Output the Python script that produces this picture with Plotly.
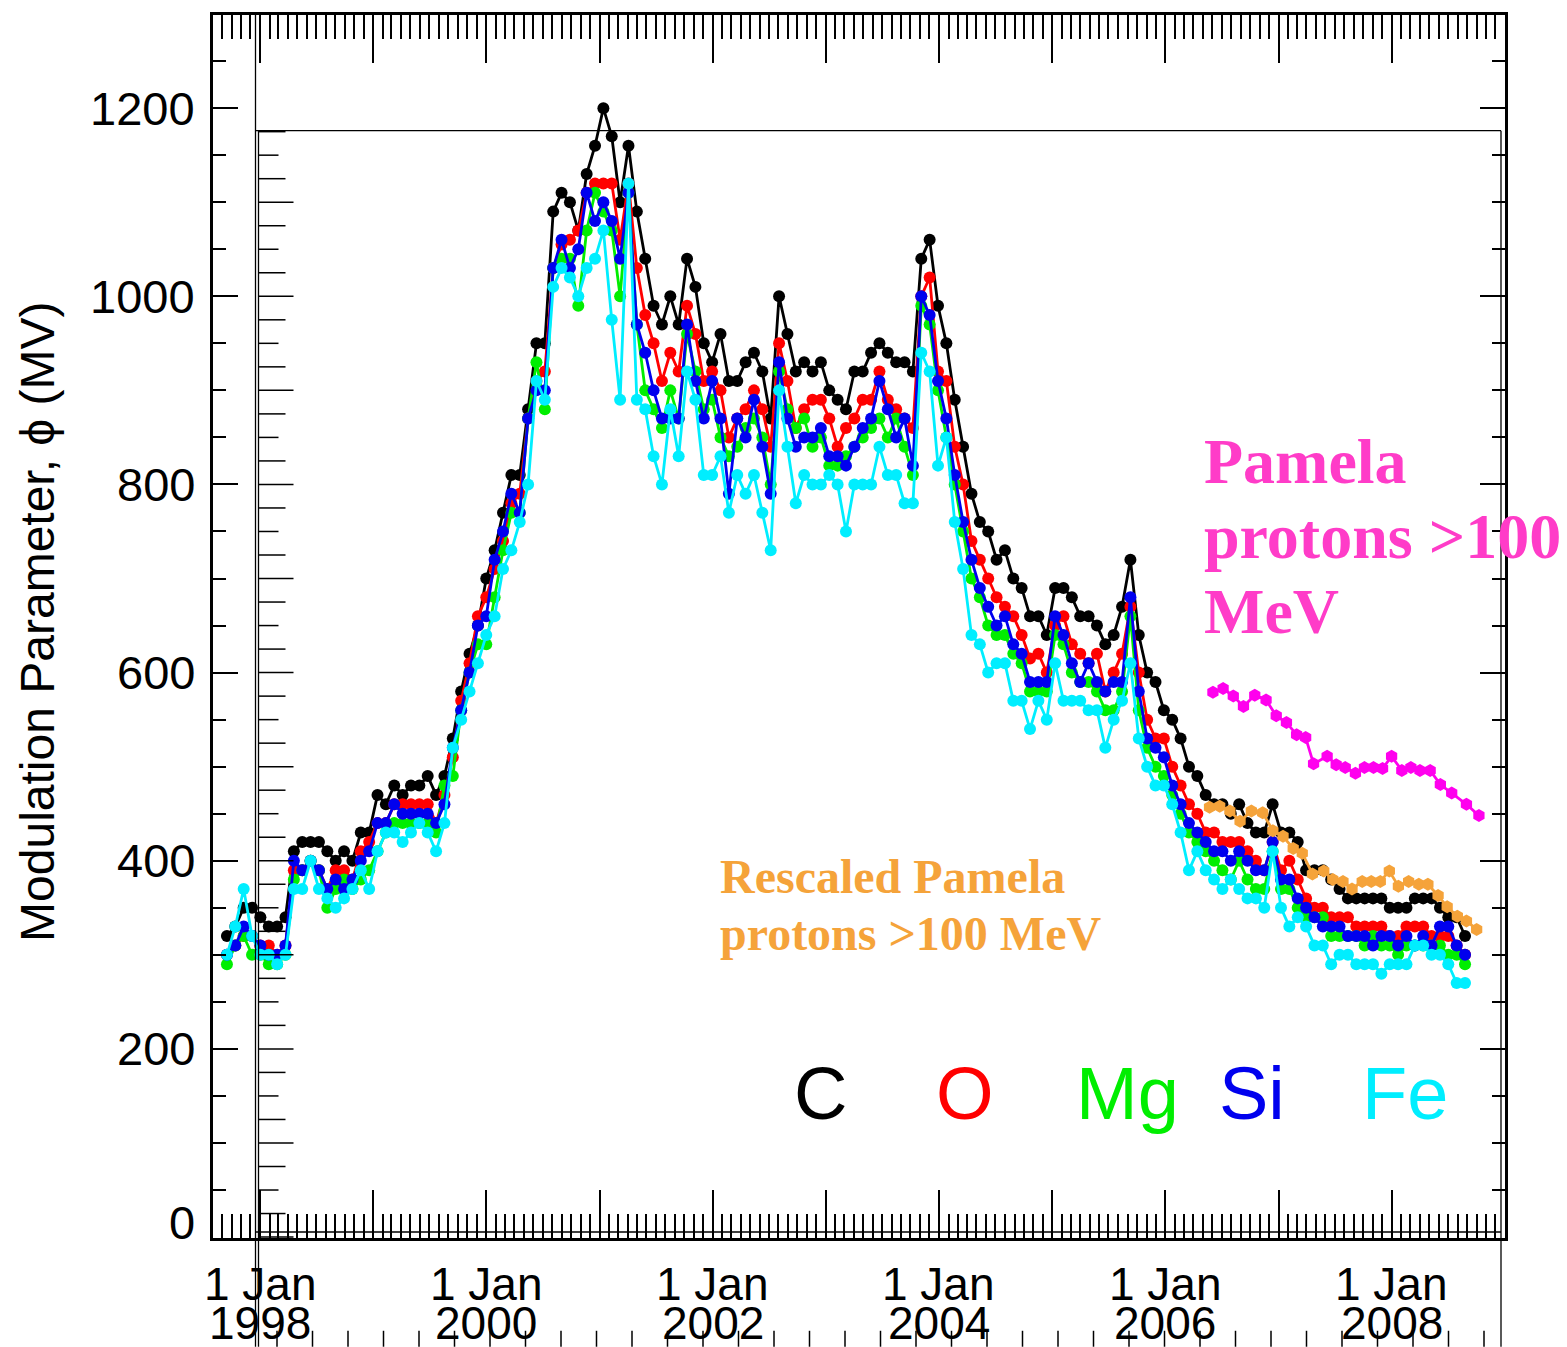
import pandas as pd
import plotly.graph_objects as go

# Bartels-rotation (27-day) averages of the solar modulation parameter
start_date = "1997-09-16"
n_rot = 149

phi_C = [320, 330, 350, 350, 340, 330, 330, 340, 410, 420, 420, 420, 410, 400, 410, 400, 430, 430, 470, 460,
         480, 470, 480, 480, 490, 470, 490, 530, 580, 620, 650, 700, 730, 770, 810, 810, 880, 950, 950, 1090,
         1110, 1100, 1070, 1130, 1160, 1200, 1170, 1100, 1160, 1090, 1040, 990, 970, 1000, 970, 1040, 1010, 950, 930, 960,
         910, 910, 930, 940, 920, 870, 1000, 960, 920, 930, 920, 930, 900, 890, 880, 920, 920, 940, 950, 940,
         930, 930, 920, 1040, 1060, 990, 950, 890, 840, 790, 760, 750, 720, 730, 700, 690, 660, 660, 640, 690,
         690, 680, 660, 660, 650, 630, 640, 670, 720, 640, 600, 590, 560, 550, 530, 500, 490, 470, 460, 460,
         450, 460, 440, 430, 430, 460, 430, 430, 420, 390, 390, 390, 380, 370, 360, 360, 360, 360, 360, 350,
         350, 350, 360, 360, 360, 350, 340, 340, 320]

phi_O = [300, 310, 320, 320, 310, 310, 300, 310, 390, 390, 400, 390, 370, 390, 390, 380, 410, 420, 440, 440,
         460, 460, 460, 460, 460, 440, 470, 510, 570, 610, 660, 680, 710, 740, 780, 790, 870, 910, 920, 1030,
         1055, 1060, 1070, 1110, 1120, 1120, 1120, 1060, 1120, 1030, 980, 950, 910, 940, 920, 990, 960, 910, 920, 900,
         850, 870, 880, 900, 880, 840, 950, 910, 860, 880, 890, 890, 870, 840, 860, 870, 890, 890, 920, 890,
         880, 870, 860, 1000, 1020, 920, 910, 840, 800, 740, 720, 700, 680, 670, 660, 640, 615, 620, 600, 650,
         660, 630, 620, 610, 620, 580, 600, 620, 670, 600, 550, 530, 530, 500, 480, 460, 450, 430, 430, 420,
         420, 420, 410, 400, 390, 420, 390, 400, 380, 360, 350, 350, 340, 340, 340, 330, 330, 330, 330, 320,
         320, 330, 330, 330, 320, 320, 320, 310, 300]

phi_Mg = [290, 310, 320, 300, 300, 290, 290, 300, 380, 390, 400, 390, 350, 370, 380, 370, 380, 390, 410, 430,
          440, 440, 440, 440, 440, 430, 480, 490, 560, 600, 630, 630, 680, 730, 770, 770, 870, 930, 880, 1030,
          1040, 1040, 990, 1070, 1110, 1090, 1070, 1000, 1110, 970, 900, 880, 860, 900, 870, 960, 920, 880, 890, 850,
          830, 840, 860, 870, 850, 800, 920, 880, 860, 870, 840, 850, 820, 820, 830, 840, 850, 860, 870, 850,
          870, 840, 810, 990, 970, 900, 850, 800, 750, 700, 680, 650, 640, 640, 620, 610, 580, 580, 580, 640,
          630, 600, 590, 590, 580, 560, 560, 580, 660, 560, 520, 500, 490, 470, 450, 430, 420, 410, 400, 390,
          380, 400, 380, 370, 370, 410, 370, 370, 350, 340, 340, 340, 320, 320, 320, 320, 310, 320, 310, 310,
          300, 310, 310, 310, 310, 310, 300, 300, 290]

phi_Si = [300, 310, 330, 320, 310, 300, 300, 310, 400, 390, 400, 390, 370, 380, 370, 380, 400, 410, 440, 440,
          460, 450, 450, 450, 450, 440, 460, 520, 560, 600, 650, 660, 720, 750, 790, 770, 870, 900, 900, 1030,
          1060, 1030, 1050, 1110, 1080, 1100, 1080, 1040, 1110, 970, 940, 900, 870, 870, 870, 970, 910, 870, 910, 870,
          790, 870, 850, 890, 840, 790, 930, 870, 840, 850, 850, 860, 830, 830, 820, 840, 860, 870, 910, 880,
          850, 870, 820, 1000, 980, 910, 870, 810, 760, 720, 690, 670, 650, 660, 630, 620, 590, 590, 590, 660,
          640, 610, 590, 610, 590, 580, 590, 590, 680, 580, 530, 520, 510, 480, 460, 440, 430, 420, 410, 410,
          400, 410, 400, 390, 390, 420, 380, 380, 360, 350, 340, 330, 330, 330, 320, 320, 320, 310, 320, 320,
          310, 320, 310, 320, 310, 330, 330, 310, 300]

phi_Fe = [300, 330, 370, 320, 300, 300, 290, 300, 370, 370, 400, 370, 360, 350, 360, 370, 390, 370, 410, 430,
          430, 420, 430, 440, 430, 410, 440, 520, 550, 580, 610, 640, 660, 710, 730, 760, 800, 910, 890, 1010,
          1030, 1020, 1000, 1030, 1040, 1070, 975, 890, 1120, 890, 880, 830, 800, 880, 830, 920, 890, 810, 810, 830,
          770, 810, 790, 810, 770, 730, 900, 840, 780, 810, 800, 800, 810, 800, 750, 800, 800, 800, 840, 810,
          810, 780, 780, 940, 920, 820, 850, 760, 710, 640, 630, 600, 610, 610, 570, 570, 540, 570, 550, 610,
          570, 570, 570, 560, 560, 520, 550, 570, 610, 530, 500, 480, 480, 460, 430, 390, 410, 390, 380, 370,
          380, 370, 360, 360, 350, 410, 350, 330, 340, 330, 310, 310, 290, 300, 300, 290, 290, 290, 280, 290,
          290, 290, 310, 310, 300, 300, 290, 270, 270]

# PAMELA protons > 100 MeV (decimal year, phi) and the rescaled copy
pamela_year = [2006.42, 2006.51, 2006.60, 2006.69, 2006.79, 2006.89, 2006.98, 2007.07, 2007.16, 2007.24,
               2007.31, 2007.43, 2007.51, 2007.59, 2007.68, 2007.76, 2007.84, 2007.92, 2008.00, 2008.09,
               2008.17, 2008.25, 2008.34, 2008.43, 2008.53, 2008.66, 2008.77]
pamela_phi = [579, 583, 575, 564, 576, 571, 554, 547, 534, 531, 503, 511, 502, 499, 493, 499, 499, 498, 511,
              496, 499, 496, 496, 481, 472, 460, 448]

resc_year = [2006.39, 2006.48, 2006.57, 2006.66, 2006.76, 2006.86, 2006.95, 2007.04, 2007.13, 2007.21,
             2007.30, 2007.40, 2007.48, 2007.57, 2007.65, 2007.74, 2007.82, 2007.90, 2007.98, 2008.06,
             2008.15, 2008.24, 2008.32, 2008.41, 2008.49, 2008.58, 2008.66, 2008.75]
resc_phi = [457, 458, 453, 442, 453, 451, 432, 426, 413, 408, 386, 389, 380, 378, 370, 378, 378, 378, 389,
            373, 378, 375, 375, 363, 351, 341, 336, 327]

species = ["C", "O", "Mg", "Si", "Fe"]
colors = ["#000000", "#ff0000", "#00ee00", "#0000ee", "#00eeff"]
year_labels = ["1998", "2000", "2002", "2004", "2006", "2008"]
phi_ticks = [0, 200, 400, 600, 800, 1000, 1200]

SANS = "Liberation Sans, Arial, sans-serif"
SERIF = "Liberation Serif, Times New Roman, serif"

# geometry of the main box in paper fractions (for the overlaid secondary frame)
PX_W, PX_H = 1292.0, 1226.0


def px_x(px):
    return (px - 213) / PX_W


def px_y(py):
    return (1238 - py) / PX_H


def to_date(y):
    year = int(y)
    frac = y - year
    base = pd.Timestamp(year=year, month=1, day=1)
    days = (pd.Timestamp(year=year + 1, month=1, day=1) - base).days
    return base + pd.Timedelta(days=frac * days)


dates = pd.date_range(start_date, periods=n_rot, freq="27D")

fig = go.Figure()
for name, vals, col in zip(species, [phi_C, phi_O, phi_Mg, phi_Si, phi_Fe], colors):
    fig.add_trace(go.Scatter(x=dates, y=vals, mode="lines+markers", name=name,
                             line=dict(color=col, width=2.8),
                             marker=dict(color=col, size=12)))

fig.add_trace(go.Scatter(x=[to_date(v) for v in resc_year], y=resc_phi, mode="lines+markers",
                         line=dict(color="#f5a33a", width=2.8),
                         marker=dict(color="#f5a33a", size=13, symbol="hexagon")))
fig.add_trace(go.Scatter(x=[to_date(v) for v in pamela_year], y=pamela_phi, mode="lines+markers",
                         line=dict(color="#ff00ee", width=2.8),
                         marker=dict(color="#ff00ee", size=13, symbol="hexagon")))

axis_font = dict(family=SANS, size=46, color="black")

fig.update_xaxes(type="date", range=["1997-08-02", "2009-01-01"],
                 showline=True, linecolor="black", linewidth=3, mirror="ticks",
                 ticks="inside", ticklen=48, tickwidth=2, tickcolor="black",
                 tick0="1998-01-01", dtick="M12", showticklabels=False, showgrid=False,
                 minor=dict(ticks="inside", ticklen=24, tickwidth=2, tickcolor="black",
                            tick0="1998-01-01", dtick="M1", showgrid=False),
                 zeroline=False)
fig.update_yaxes(range=[-1, 1299],
                 showline=True, linecolor="black", linewidth=3, mirror="ticks",
                 ticks="inside", ticklen=25, tickwidth=2, tickcolor="black",
                 tickmode="linear", tick0=0, dtick=200, showticklabels=False,
                 showgrid=False, zeroline=False,
                 minor=dict(ticks="inside", ticklen=13, tickwidth=2, tickcolor="black",
                            dtick=50, showgrid=False))

annotations = []
# two-line date labels under the axis
for yr in year_labels:
    annotations.append(dict(x=f"{yr}-01-01", y=px_y(1284), xref="x", yref="paper", text="1 Jan",
                            showarrow=False, font=axis_font, xanchor="center", yanchor="middle",
                            height=40))
    annotations.append(dict(x=f"{yr}-01-01", y=px_y(1323), xref="x", yref="paper", text=yr,
                            showarrow=False, font=axis_font, xanchor="center", yanchor="middle",
                            height=40))

# phi tick labels (the zero label sits a little above its tick)
for v in phi_ticks:
    annotations.append(dict(x=-0.012, y=v + (15 if v == 0 else 0), xref="paper", yref="y", text=str(v),
                            showarrow=False, font=dict(family=SANS, size=47, color="black"),
                            xanchor="right", yanchor="middle"))

annotations.append(dict(x=-0.136, y=0.504, xref="paper", yref="paper", textangle=-90,
                        text="Modulation Parameter, \u03d5 (MV)", showarrow=False,
                        font=dict(family=SANS, size=48, color="black"),
                        xanchor="center", yanchor="middle"))

legend_x = [0.470, 0.582, 0.708, 0.804, 0.9226]
for name, col, lx in zip(species, colors, legend_x):
    annotations.append(dict(x=lx, y=0.118, xref="paper", yref="paper", text=name, showarrow=False,
                            font=dict(family=SANS, size=74, color=col),
                            xanchor="center", yanchor="middle"))

pamela_lines = [("Pamela", 0.6346), ("protons >100", 0.5734), ("MeV", 0.5122)]
for txt, ly in pamela_lines:
    annotations.append(dict(x=0.7655, y=ly, xref="paper", yref="paper", text=f"<b>{txt}</b>",
                            showarrow=False, font=dict(family=SERIF, size=64, color="#ff3cc8"),
                            xanchor="left", yanchor="middle"))

rescaled_lines = [("Rescaled Pamela", 0.2955), ("protons >100 MeV", 0.2490)]
for txt, ly in rescaled_lines:
    annotations.append(dict(x=0.391, y=ly, xref="paper", yref="paper", text=f"<b>{txt}</b>",
                            showarrow=False, font=dict(family=SERIF, size=48, color="#f5a33a"),
                            xanchor="left", yanchor="middle"))

# thin secondary frame laid over the main box, with its own tick marks
frame = dict(color="black", width=1.3)
shapes = [
    dict(type="line", xref="paper", yref="paper", x0=px_x(256), x1=px_x(1501), y0=px_y(128), y1=px_y(128), line=frame),
    dict(type="line", xref="paper", yref="paper", x0=px_x(255.5), x1=px_x(255.5), y0=1.0, y1=px_y(1347), line=frame),
    dict(type="line", xref="paper", yref="paper", x0=px_x(258.5), x1=px_x(258.5), y0=px_y(128), y1=px_y(1347), line=frame),
    dict(type="line", xref="paper", yref="paper", x0=px_x(1501), x1=px_x(1501), y0=px_y(128), y1=px_y(1347), line=frame),
    dict(type="line", xref="paper", yref="paper", x0=px_x(256), x1=px_x(1501), y0=px_y(1232), y1=px_y(1232), line=frame),
]
tick_line = dict(color="black", width=1.5)
for k in range(-4, 48):
    v = 25 * k
    length = 35 if v % 100 == 0 else (20 if v % 50 == 0 else 27)
    shapes.append(dict(type="line", xref="paper", yref="y", x0=px_x(258.5), x1=px_x(258.5 + length),
                       y0=v, y1=v, line=tick_line))
for k in range(-2, 33):
    xp = 348 + 35.5 * k
    shapes.append(dict(type="line", xref="paper", yref="paper", x0=px_x(xp), x1=px_x(xp),
                       y0=px_y(1347), y1=px_y(1331), line=tick_line))

fig.update_layout(width=1567, height=1347, margin=dict(l=213, r=62, t=12, b=109),
                  paper_bgcolor="white", plot_bgcolor="white", showlegend=False,
                  annotations=annotations, shapes=shapes)

fig.write_html("out.html")
